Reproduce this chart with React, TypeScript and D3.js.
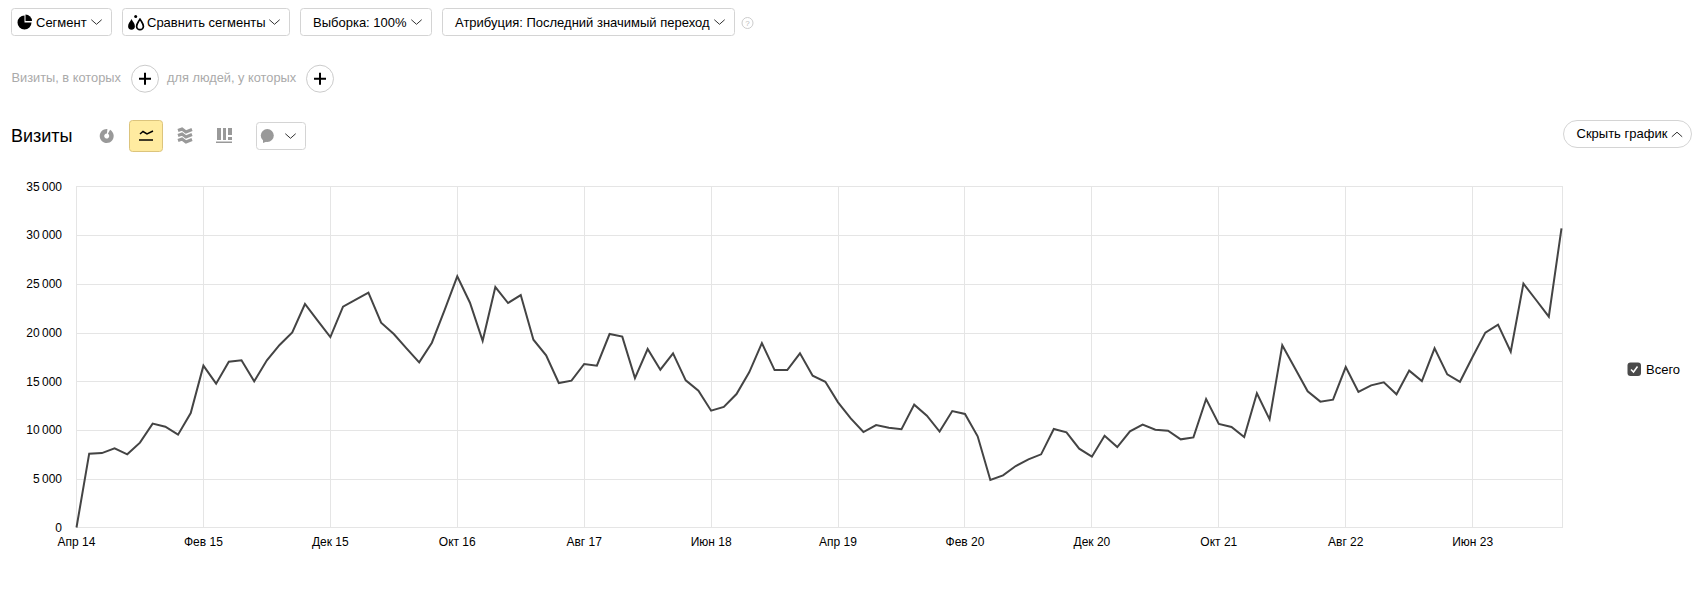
import React, { useEffect, useRef } from 'react';
import * as d3 from 'd3';

const visits = [
	0, 7580, 7640, 8120, 7510, 8710, 10660, 10350, 9530, 11750,
	16610, 14760, 17020, 17160, 15000, 17160, 18740, 20030, 22940, 21230,
	19550, 22660, 23380, 24100, 21020, 19860, 18390, 16950, 18970, 22320,
	25780, 23070, 19170, 24680, 23040, 23860, 19270, 17670, 14830, 15070,
	16780, 16610, 19860, 19590, 15340, 18320, 16200, 17880, 15100, 14040,
	11990, 12370, 13700, 15930, 18930, 16160, 16160, 17880, 15580, 14960,
	12850, 11200, 9800, 10520, 10240, 10080, 12610, 11470, 9840, 11950,
	11650, 9360, 4880, 5350, 6310, 6990, 7510, 10110, 9770, 8090,
	7270, 9420, 8260, 9870, 10560, 10040, 9940, 9050, 9250, 13190,
	10630, 10320, 9290, 13770, 11100, 18700, 16340, 13980, 12920, 13120,
	16470, 13910, 14590, 14900, 13670, 16100, 15030, 18390, 15720, 14960,
	17530, 20000, 20820, 18040, 25030, 23350, 21640, 30710,
];
const monthLabels = ['Апр 14', 'Фев 15', 'Дек 15', 'Окт 16', 'Авг 17', 'Июн 18', 'Апр 19', 'Фев 20', 'Дек 20', 'Окт 21', 'Авг 22', 'Июн 23'];
const yTicks = [0, 5000, 10000, 15000, 20000, 25000, 30000, 35000];

const FONT = '"Liberation Sans", Arial, sans-serif';

export default function App() {
	const ref = useRef<SVGSVGElement>(null);

	useEffect(() => {
		const svg = d3.select(ref.current);
		svg.selectAll('*').remove();

		const x = d3.scaleLinear().domain([0, visits.length - 1]).range([76.5, 1561.5]);
		const y = d3.scaleLinear().domain([0, 35000]).range([527.5, 186.5]);
		const fmt = d3.formatLocale({ decimal: ',', thousands: '\u2009', grouping: [3], currency: ['', ''] }).format(',d');

		const addText = (s: string, tx: number, ty: number, size = 13, fill = '#000', anchor = 'start') =>
			svg.append('text').text(s)
				.attr('x', tx).attr('y', ty)
				.attr('font-family', FONT).attr('font-size', size)
				.attr('fill', fill).attr('text-anchor', anchor);

		const addButton = (x0: number, x1: number, y0: number, y1: number, r = 3) =>
			svg.append('rect')
				.attr('x', x0 + 0.5).attr('y', y0 + 0.5)
				.attr('width', x1 - x0).attr('height', y1 - y0)
				.attr('rx', r)
				.attr('fill', '#fff').attr('stroke', '#d4d4d4');

		const chevron = (cx: number, cy: number, up = false, w = 5.2, h = 4.6, color = '#333') => {
			const d = up ? -h / 2 : h / 2;
			svg.append('path')
				.attr('d', d3.line()([[cx - w, cy - d], [cx, cy + d], [cx + w, cy - d]]))
				.attr('fill', 'none').attr('stroke', color).attr('stroke-width', 1);
		};

		// grid
		const grid = svg.append('g').attr('stroke', '#e5e5e5').attr('stroke-width', 1);
		yTicks.forEach(t => {
			const gy = Math.floor(y(t) + 0.4) + 0.5;
			grid.append('line').attr('x1', 76).attr('x2', 1563).attr('y1', gy).attr('y2', gy);
			addText(fmt(t), 62, y(t) + 4.2, 12, '#000', 'end');
		});
		const xTicks = monthLabels.map((_, i) => i * 10);
		xTicks.forEach((t, i) => {
			const gx = Math.floor(x(t)) + 0.5;
			grid.append('line').attr('x1', gx).attr('x2', gx).attr('y1', 186).attr('y2', 528);
			addText(monthLabels[i], x(t), 546, 12, '#000', 'middle');
		});
		grid.append('line').attr('x1', 1562.5).attr('x2', 1562.5).attr('y1', 186).attr('y2', 528);

		// series
		const line = d3.line<number>().x((_, i) => x(i)).y(d => y(d));
		svg.append('path')
			.attr('d', line(visits))
			.attr('fill', 'none')
			.attr('stroke', '#444')
			.attr('stroke-width', 2);

		// toolbar
		addButton(11, 111, 8, 35);
		addButton(122, 289, 8, 35);
		addButton(300, 431, 8, 35);
		addButton(442, 734, 8, 35);
		addText('Сегмент', 36, 26.5);
		addText('Сравнить сегменты', 147, 26.5);
		addText('Выборка: 100%', 313, 26.5);
		addText('Атрибуция: Последний значимый переход', 455, 26.5);
		chevron(96.5, 22);
		chevron(274.5, 22);
		chevron(416.5, 22);
		chevron(719.5, 22);

		// segment icon: pie with a slice pulled out
		svg.append('path')
			.attr('d', d3.arc()({ innerRadius: 0, outerRadius: 7, startAngle: Math.PI / 2, endAngle: Math.PI * 2 }))
			.attr('transform', 'translate(24.5,22.5)')
			.attr('fill', '#000');
		svg.append('path')
			.attr('d', d3.arc()({ innerRadius: 0, outerRadius: 6.5, startAngle: 0, endAngle: Math.PI / 2 }))
			.attr('transform', 'translate(25.5,21)')
			.attr('fill', '#000');

		const drop = 'M0,-5.5 C1.3,-2.8 3.4,-1 3.4,1.8 A3.4,3.4 0 0 1 -3.4,1.8 C-3.4,-1 -1.3,-2.8 0,-5.5 Z';
		svg.append('path').attr('d', drop).attr('transform', 'translate(131.5,24.5)').attr('fill', '#000');
		svg.append('path').attr('d', drop).attr('transform', 'translate(140,24.5)').attr('fill', 'none').attr('stroke', '#000').attr('stroke-width', 1.7).attr('stroke-linejoin', 'round');
		svg.append('circle').attr('cx', 135.7).attr('cy', 16.5).attr('r', 1.5).attr('fill', '#000');

		// help
		svg.append('circle').attr('cx', 747.5).attr('cy', 23).attr('r', 5.5).attr('fill', 'none').attr('stroke', '#ccc');
		addText('?', 747.5, 26, 8, '#bbb', 'middle');

		// filter row
		addText('Визиты, в которых', 11.5, 82, 12.8, '#aaa');
		addText('для людей, у которых', 167, 82, 12.8, '#aaa');
		[145, 320].forEach(cx => {
			svg.append('circle').attr('cx', cx).attr('cy', 78.7).attr('r', 13.5).attr('fill', '#fff').attr('stroke', '#ccc');
			svg.append('path').attr('d', `M${cx - 6},78.7H${cx + 6}M${cx},72.7V84.7`).attr('stroke', '#000').attr('stroke-width', 2);
		});

		// title row
		addText('Визиты', 11, 142, 18);
		svg.append('path')
			.attr('d', d3.arc()({ innerRadius: 2.5, outerRadius: 7, startAngle: 0.5, endAngle: Math.PI * 2 + 0.1 }))
			.attr('transform', 'translate(106.7,136)')
			.attr('fill', '#999');
		svg.append('rect').attr('x', 129.5).attr('y', 120.5).attr('width', 33).attr('height', 31).attr('rx', 3).attr('fill', '#ffeba0').attr('stroke', '#dcc47c');
		svg.append('path').attr('d', 'M140,134 L143,131.5 L147,134 L153,131').attr('fill', 'none').attr('stroke', '#000').attr('stroke-width', 1.5);
		svg.append('path').attr('d', 'M139,140H153').attr('stroke', '#000').attr('stroke-width', 1.5);
		[0, 5, 10].forEach(dy => {
			svg.append('path')
				.attr('d', `M178,${130.5 + dy} L182,${129 + dy} L186,${132 + dy} L192,${129.5 + dy}`)
				.attr('fill', 'none').attr('stroke', '#999').attr('stroke-width', 3);
		});
		svg.append('path').attr('d', 'M217,128H221V140H217Z M223,128H226V140H223Z M228,128H232V135H228Z M228,137H232V140H228Z M216,141.5H232V143H216Z').attr('fill', '#999');
		addButton(256, 305, 122, 149);
		svg.append('circle').attr('cx', 267.3).attr('cy', 135.5).attr('r', 6.5).attr('fill', '#999');
		svg.append('path').attr('d', 'M263,139 L263,143 L268,141 Z').attr('fill', '#999');
		chevron(290.5, 136);

		// hide button
		addButton(1563, 1691, 120, 147, 13.5);
		addText('Скрыть график', 1576.5, 138);
		chevron(1677, 134.5, true);

		// legend
		svg.append('rect').attr('x', 1627.5).attr('y', 362.5).attr('width', 13.5).attr('height', 13.5).attr('rx', 3).attr('fill', '#4a4a4a');
		svg.append('path').attr('d', 'M1631,369.5 L1633.5,372 L1637.5,366.5').attr('fill', 'none').attr('stroke', '#fff').attr('stroke-width', 1.5);
		addText('Всего', 1646, 374);
	}, []);

	return (
		<svg
			ref={ref}
			width={1694}
			height={593}
			style={{ position: 'absolute', left: 0, top: 0, background: '#fff' }}
		/>
	);
}
